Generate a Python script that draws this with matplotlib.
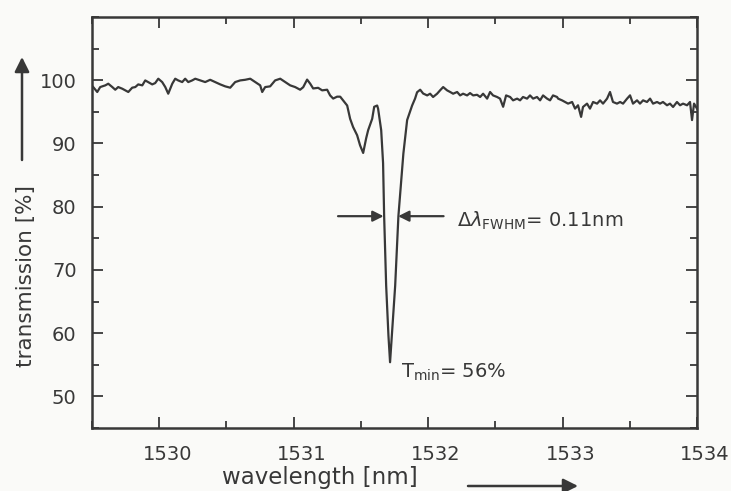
#** MÓDULOS NECESSÁRIOS **
import numpy as np
import matplotlib.pyplot as plt
from matplotlib.transforms import ScaledTranslation

#** DADOS LIDOS DO GRÁFICO **
# comprimento de onda [nm]
comprimento_onda = [
    1529.509, 1529.539, 1529.561, 1529.599, 1529.621, 1529.651, 1529.673, 1529.695,
    1529.725, 1529.747, 1529.770, 1529.799, 1529.822, 1529.844, 1529.874, 1529.896,
    1529.918, 1529.948, 1529.970, 1529.993, 1530.022, 1530.045, 1530.067, 1530.097,
    1530.119, 1530.141, 1530.171, 1530.193, 1530.216, 1530.245, 1530.268, 1530.305,
    1530.342, 1530.379, 1530.416, 1530.454, 1530.491, 1530.528, 1530.565, 1530.602,
    1530.639, 1530.677, 1530.714, 1530.751, 1530.766, 1530.788, 1530.825, 1530.862,
    1530.900, 1530.937, 1530.974, 1531.011, 1531.048, 1531.071, 1531.100, 1531.123,
    1531.145, 1531.182, 1531.212, 1531.249, 1531.271, 1531.294, 1531.323, 1531.346,
    1531.368, 1531.398, 1531.420, 1531.442, 1531.472, 1531.494, 1531.517, 1531.539,
    1531.554, 1531.584, 1531.599, 1531.621, 1531.628, 1531.651, 1531.665, 1531.673,
    1531.688, 1531.705, 1531.717, 1531.730, 1531.755, 1531.779, 1531.816, 1531.844,
    1531.881, 1531.903, 1531.918, 1531.941, 1531.963, 1531.993, 1532.015, 1532.037,
    1532.067, 1532.089, 1532.112, 1532.141, 1532.164, 1532.186, 1532.216, 1532.238,
    1532.260, 1532.290, 1532.312, 1532.335, 1532.364, 1532.387, 1532.409, 1532.439,
    1532.461, 1532.483, 1532.513, 1532.535, 1532.558, 1532.580, 1532.610, 1532.632,
    1532.662, 1532.684, 1532.706, 1532.736, 1532.758, 1532.781, 1532.810, 1532.833,
    1532.855, 1532.885, 1532.907, 1532.929, 1532.959, 1532.967, 1532.996, 1533.019,
    1533.041, 1533.071, 1533.093, 1533.115, 1533.138, 1533.152, 1533.182, 1533.204,
    1533.227, 1533.257, 1533.279, 1533.301, 1533.331, 1533.353, 1533.375, 1533.405,
    1533.428, 1533.450, 1533.480, 1533.502, 1533.524, 1533.554, 1533.576, 1533.599,
    1533.628, 1533.651, 1533.673, 1533.703, 1533.725, 1533.747, 1533.777, 1533.799,
    1533.822, 1533.851, 1533.874, 1533.896, 1533.926, 1533.948, 1533.963, 1533.978,
    1534.000]

# transmissão [%]
transmissao = [
    98.92, 98.14, 98.92, 99.19, 99.45, 98.92, 98.50, 98.92,
    98.66, 98.40, 98.14, 98.82, 98.92, 99.34, 99.19, 99.97,
    99.71, 99.34, 99.55, 100.24, 99.71, 98.92, 97.87, 99.45,
    100.24, 99.97, 99.71, 100.24, 99.71, 99.97, 100.24, 99.97,
    99.71, 100.07, 99.71, 99.34, 99.03, 98.82, 99.71, 99.97,
    100.07, 100.24, 99.71, 99.19, 98.14, 98.92, 99.03, 99.97,
    100.24, 99.71, 99.19, 98.92, 98.50, 98.90, 100.10, 99.45,
    98.70, 98.80, 98.40, 98.50, 97.60, 97.10, 97.40, 97.40,
    96.80, 96.00, 93.90, 92.60, 91.30, 89.70, 88.50, 90.80,
    92.10, 93.90, 95.80, 96.00, 95.50, 92.10, 86.90, 78.50,
    67.50, 59.60, 55.40, 59.60, 67.50, 78.50, 88.40, 93.70,
    96.00, 97.10, 98.10, 98.50, 97.90, 97.60, 97.87, 97.35,
    97.87, 98.40, 98.92, 98.40, 98.14, 97.87, 98.14, 97.60,
    97.87, 97.60, 97.97, 97.60, 97.70, 97.35, 97.87, 97.09,
    98.14, 97.60, 97.35, 97.09, 95.80, 97.60, 97.35, 96.82,
    97.09, 96.82, 97.35, 97.09, 97.60, 97.09, 97.35, 96.82,
    97.60, 97.09, 96.82, 97.60, 97.35, 97.09, 96.82, 96.56,
    96.30, 96.56, 95.51, 96.04, 94.20, 95.77, 96.30, 95.51,
    96.56, 96.30, 96.82, 96.30, 97.09, 98.14, 96.56, 96.30,
    96.56, 96.30, 97.09, 97.61, 96.30, 96.82, 96.30, 96.82,
    96.56, 97.09, 96.30, 96.56, 96.30, 96.56, 96.04, 96.30,
    95.77, 96.56, 96.04, 96.30, 96.04, 96.56, 93.70, 96.30,
    95.51]

ticks_x = [1530, 1531, 1532, 1533, 1534]
ticks_y = [50, 60, 70, 80, 90, 100]

# anotações
nivel_fwhm = 78.5
fwhm_esq = 1531.669
fwhm_dir = 1531.777
texto_fwhm = r'$\Delta\lambda_{\mathregular{FWHM}}$= 0.11nm'
texto_tmin = r'T$_{\mathregular{min}}$= 56%'

#** ESTILO **
cor = '#383838'
fundo = '#fafaf8'
plt.rcParams['font.family'] = ['DejaVu Sans']
plt.rcParams['mathtext.fontset'] = 'dejavusans'

#** FIGURA **
fig = plt.figure(figsize=(7.31, 4.91), dpi=100, facecolor=fundo)
ax = fig.add_axes([92/731, 1 - 428/491, 605/731, 411/491])
ax.set_facecolor(fundo)

ax.plot(comprimento_onda, transmissao, color=cor, lw=1.6)

ax.set_xlim(1529.5, 1534)
ax.set_ylim(45, 110)
ax.set_xticks(ticks_x)
ax.set_xticks(np.arange(1529.5, 1534.01, 0.5), minor=True)
ax.set_yticks(ticks_y)
ax.set_yticks(np.arange(45, 110.1, 5), minor=True)

for lado in ax.spines.values():
    lado.set_color(cor)
    lado.set_linewidth(1.8)

ax.tick_params(which='both', direction='in', top=True, right=True,
               color=cor, width=1.3, labelcolor=cor, labelsize=14)
ax.tick_params(which='major', length=8)
ax.tick_params(which='minor', length=5)
ax.tick_params(axis='x', pad=12)
ax.tick_params(axis='y', pad=11)

# rótulos do eixo x um pouco deslocados para a direita
desloc = ScaledTranslation(8/100, 0, fig.dpi_scale_trans)
for rot in ax.get_xticklabels():
    rot.set_transform(rot.get_transform() + desloc)

#** SETAS DA LARGURA A MEIA ALTURA **
seta = dict(arrowstyle='-|>', color=cor, lw=1.6, mutation_scale=16,
            shrinkA=0, shrinkB=0)
ax.annotate('', xy=(fwhm_esq, nivel_fwhm), xytext=(1531.33, nivel_fwhm), arrowprops=seta)
ax.annotate('', xy=(fwhm_dir, nivel_fwhm), xytext=(1532.115, nivel_fwhm), arrowprops=seta)

ax.text(1532.215, 76.8, texto_fwhm, color=cor, fontsize=14, ha='left', va='baseline')
ax.text(1531.80, 52.9, texto_tmin, color=cor, fontsize=14, ha='left', va='baseline')

#** RÓTULOS DOS EIXOS COM SETAS **
fig.text(26/731, 1 - 276/491, 'transmission [%]', rotation=90, color=cor,
         fontsize=15.5, ha='center', va='center')
fig.text(320/731, 2/491, 'wavelength [nm]', color=cor, fontsize=16.5,
         ha='center', va='bottom')

seta_eixo = dict(arrowstyle='-|>', color=cor, lw=1.8, mutation_scale=22,
                 shrinkA=0, shrinkB=0)
ax.annotate('', xy=(22, 491 - 57), xytext=(22, 491 - 160), xycoords='figure pixels',
            textcoords='figure pixels', arrowprops=seta_eixo, annotation_clip=False)
ax.annotate('', xy=(578, 491 - 486), xytext=(468, 491 - 486), xycoords='figure pixels',
            textcoords='figure pixels', arrowprops=seta_eixo, annotation_clip=False)

fig.savefig('out.png', dpi=100, facecolor=fundo)
